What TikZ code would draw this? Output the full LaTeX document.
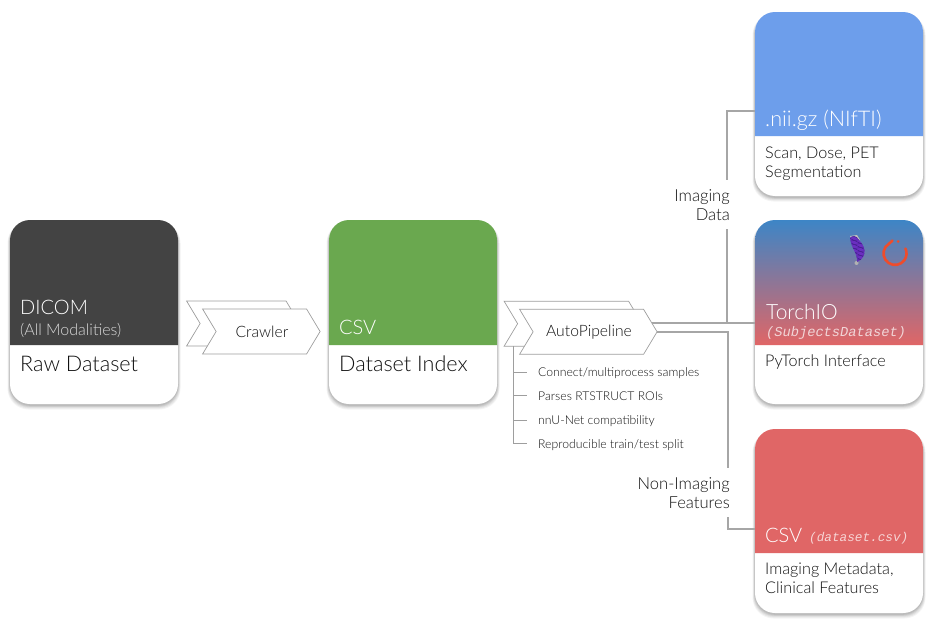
\documentclass[tikz,border=0pt]{standalone}
\usepackage{fontspec}
\setmainfont{Lato Light}
\newfontfamily\monof{Liberation Mono}
\usetikzlibrary{shapes.symbols,calc}
\definecolor{cardink}{HTML}{111111}
\definecolor{wire}{HTML}{A6A6A6}
\definecolor{chev}{HTML}{9E9E9E}
\definecolor{hdark}{HTML}{434343}
\definecolor{hgreen}{HTML}{6AA84F}
\definecolor{hblue}{HTML}{6D9EEB}
\definecolor{hred}{HTML}{E06666}
\definecolor{gtop}{HTML}{3D85C6}
\definecolor{gmid}{HTML}{8E7CC3}
\definecolor{logored}{HTML}{EE4C2C}
\definecolor{mesh}{HTML}{6A2FC0}
\definecolor{meshd}{HTML}{3A1A80}
\tikzset{
 x=1pt,y=-1pt,
 cardbody/.style={minimum width=168pt,minimum height=184pt,inner sep=0pt,rounded corners=20pt,fill=white},
 headtitle/.style={anchor=base west,inner sep=0pt,text=white,font=\fontsize{20}{24}\selectfont},
 headsub/.style={anchor=base west,inner sep=0pt,text=white,text opacity=.8,font=\fontsize{16}{19}\selectfont},
 headmono/.style={anchor=base west,inner sep=0pt,text=white,text opacity=.72,font=\monof\itshape\fontsize{13.7}{17}\selectfont},
 bodytext/.style={anchor=base west,inner sep=0pt,text=cardink,font=\fontsize{16.2}{19}\selectfont},
 bodybig/.style={anchor=base west,inner sep=0pt,text=cardink,font=\fontsize{21.6}{25}\selectfont},
 chevron/.style={shape=signal,signal to=east,signal from=west,signal pointer angle=118,draw=chev,line width=.7pt,fill=white,minimum height=45pt,inner sep=0pt,anchor=east},
 chevtext/.style={inner sep=0pt,text=cardink,font=\fontsize{15.7}{18}\selectfont},
 wirea/.style={draw=wire,line width=2pt},
 wireb/.style={draw=chev,line width=.8pt},
 ticktext/.style={anchor=base west,inner sep=0pt,text=cardink,font=\fontsize{12.2}{14}\selectfont},
 sidelabel/.style={anchor=base east,inner sep=0pt,text=cardink,font=\fontsize{16.6}{19}\selectfont},
}
\newcommand{\cardshadow}[2]{%
 \foreach \g/\o in {5/.04,4/.05,3/.06,2/.07,1/.08}{
  \fill[black,opacity=\o,rounded corners=21pt] (#1-\g*.5,#2+2) rectangle (#1+168+\g*.5,#2+184+\g*.9+1);
 }}
\newcommand{\headpath}[3]{(#1,#3) -- (#1,#2+20) arc[start angle=180,end angle=90,radius=20pt] -- (#1+148,#2) arc[start angle=90,end angle=0,radius=20pt] -- (#1+168,#3) -- cycle}
\begin{document}
\begin{tikzpicture}
\useasboundingbox (0,0) rectangle (934,621);
\cardshadow{10}{220}\cardshadow{329}{220}\cardshadow{755}{12}\cardshadow{755}{220}\cardshadow{755}{429}
% cards
\node[cardbody] (dicom) at (94,312) {};
\node[cardbody] (csvidx) at (413,312) {};
\node[cardbody] (nifti) at (839,104) {};
\node[cardbody] (torch) at (839,312) {};
\node[cardbody] (csvfeat) at (839,521) {};
\fill[hdark] \headpath{10}{220}{345};
\fill[hgreen] \headpath{329}{220}{345};
\fill[hblue] \headpath{755}{12}{136};
\shade[top color=gtop,middle color=gmid,bottom color=hred] \headpath{755}{220}{345};
\fill[hred] \headpath{755}{429}{553};
% card texts
\node[headtitle] (t1) at (20,314) {DICOM};
\node[headsub] (t2) at (20,335) {(All Modalities)};
\node[bodybig] (t3) at (20,371) {Raw Dataset};
\node[headtitle] (t4) at (339,334) {CSV};
\node[bodybig] (t5) at (339,371) {Dataset Index};
\node[headtitle,font=\fontsize{21.6}{25}\selectfont] (t6) at (765,126) {.nii.gz (NIfTI)};
\node[bodytext] (t7) at (765,158) {Scan, Dose, PET};
\node[bodytext] (t8) at (765,177) {Segmentation};
\node[headtitle,font=\fontsize{21}{25}\selectfont] (t9) at (766,319) {TorchIO};
\node[headmono] (t10) at (766,336) {(SubjectsDataset)};
\node[bodytext] (t11) at (765,366) {PyTorch Interface};
\node[headtitle] (t12) at (765,542) {CSV};
\node[headmono,font=\monof\itshape\fontsize{12.7}{15}\selectfont] (t13) at (809,541) {(dataset.csv)};
\node[bodytext] (t14) at (765,574) {Imaging Metadata,};
\node[bodytext] (t15) at (765,593) {Clinical Features};
% logos
\draw[logored,line width=2.6pt,line cap=round] (892.5,240.5) -- (885.5,247) arc[start angle=146,end angle=385,radius=11.5pt];
\fill[logored] (898,241.5) circle[radius=1.5pt];
\fill[gray!50] (850,236) -- (857,235) -- (860,240) -- (853,241) -- cycle;
\fill[gray!60] (856.5,263) circle[radius=2pt];
\begin{scope}
\clip (850,238) .. controls (852,235) and (857,236) .. (859,240) .. controls (863,244) and (866,250) .. (864,255) .. controls (862,259) and (860,261) .. (857,262) .. controls (858,254) and (851,248) .. (850,238) -- cycle;
\fill[mesh] (845,232) rectangle (870,268);
\foreach \k in {0,4,...,32}{
 \draw[meshd,line width=.3pt] (845,232+\k) -- (870,244+\k);
 \draw[meshd,line width=.3pt] (845,246+\k-16) -- (870,226+\k);
}
\end{scope}
% connectors
\coordinate (imgturn) at (726.5,111);
\coordinate (imgin) at (755,111);
\coordinate (imggapa) at (726.5,180);
\coordinate (imggapb) at (726.5,229);
\coordinate (imgjoin) at (726.5,323);
\coordinate (torchin) at (755,323);
\coordinate (apout) at (652,323);
\coordinate (apouttwo) at (657,331.7);
\coordinate (featturn) at (728,331.7);
\coordinate (featgapa) at (728,468);
\coordinate (featgapb) at (728,517);
\coordinate (featcorner) at (728,528.5);
\coordinate (featin) at (755,528.5);
\draw[wirea] (imgin) -- (imgturn) -- (imggapa);
\draw[wirea] (imggapb) -- (imgjoin);
\draw[wirea] (apout) -- (torchin);
\draw[wirea] (apouttwo) -- (featturn) -- (featgapa);
\draw[wirea] (featgapb) -- (featcorner) -- (featin);
\node[sidelabel] (l1) at (730,201) {Imaging};
\node[sidelabel] (l2) at (730,220) {Data};
\node[sidelabel] (l3) at (730,489) {Non-Imaging};
\node[sidelabel] (l4) at (730,508) {Features};
% chevrons
\node[chevron,minimum width=113pt] (crawlb) at (300,323.5) {};
\node[chevron,minimum width=117.5pt] (crawl) at (320.5,331.5) {};
\node[chevtext] (crawlt) at (262,332) {Crawler};
\node[chevron,minimum width=138pt] (autob) at (642.5,323.7) {};
\node[chevron,minimum width=137.5pt] (auto) at (657.5,331.8) {};
\node[chevtext] (autot) at (589,332) {AutoPipeline};
% tree
\coordinate (trunk) at (513.3,346);
\coordinate (c1) at (513.3,372);\coordinate (c2) at (513.3,395.5);
\coordinate (c3) at (513.3,420);\coordinate (c4) at (513.3,443.5);
\coordinate (e1) at (527,372);\coordinate (e2) at (527,395.5);
\coordinate (e3) at (527,420);\coordinate (e4) at (527,443.5);
\draw[wireb] (trunk) -- (c4) -- (e4);
\draw[wireb] (c1) -- (e1);
\draw[wireb] (c2) -- (e2);
\draw[wireb] (c3) -- (e3);
\node[ticktext] (i1) at (538,376) {Connect/multiprocess samples};
\node[ticktext] (i2) at (538,400) {Parses RTSTRUCT ROIs};
\node[ticktext] (i3) at (538,424) {nnU-Net compatibility};
\node[ticktext] (i4) at (538,448) {Reproducible train/test split};
\end{tikzpicture}
\end{document}
